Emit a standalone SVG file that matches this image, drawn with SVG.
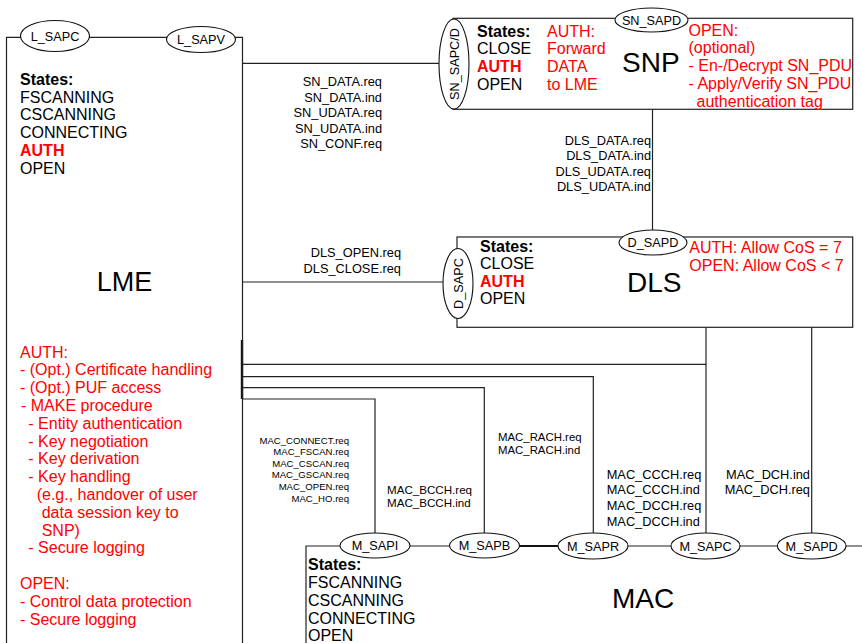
<svg xmlns="http://www.w3.org/2000/svg" width="862" height="643" viewBox="0 0 862 643">
<style>
text{font-family:"Liberation Sans",Arial,sans-serif;fill:#000}
.b{font-size:16px}
.bb{font-size:16px;font-weight:bold}
.r{fill:#ff0000}
.big{font-size:28px}
.sap{font-size:12.7px;text-anchor:middle}
.lbl{font-size:12.8px}
.e{text-anchor:end}
.box{fill:#fff;stroke:#222;stroke-width:1.2}
.ln{fill:none;stroke:#222;stroke-width:1.2}
.el{fill:#fff;stroke:#111;stroke-width:1.1}
</style>
<rect width="862" height="643" fill="#fff"/>

<g id="connectors">
<path class="ln" d="M242 63.3H440"/>
<path class="ln" d="M242 282H444"/>
<path class="ln" d="M652.5 109.3V230"/>
<path class="ln" d="M706 327V533"/>
<path class="ln" d="M811.7 327V533"/>
<path class="ln" d="M242 364.3H706"/>
<path class="ln" d="M242 376.7H593.3V533"/>
<path class="ln" d="M242 387.7H484.3V533"/>
<path class="ln" d="M242 399H375V533"/>
<path d="M242 340V399" stroke="#111" stroke-width="2.4"/>
<path class="ln" d="M306 643V546H862"/>
<path d="M519 546H558" stroke="#111" stroke-width="2"/>
</g>

<g id="LME">
<path class="ln" d="M6.5 643V37.3H242.5V643"/>
<ellipse class="el" cx="55" cy="36" rx="34.5" ry="15.5"/>
<text class="sap" x="55" y="40.5">L_SAPC</text>
<ellipse class="el" cx="201" cy="39.5" rx="34.5" ry="13"/>
<text class="sap" x="201" y="44">L_SAPV</text>
<text class="bb" x="20" y="85">States:</text>
<text class="b" x="20" y="102.7">FSCANNING</text>
<text class="b" x="20" y="120.4">CSCANNING</text>
<text class="b" x="20" y="138.1">CONNECTING</text>
<text class="bb r" x="20" y="155.8">AUTH</text>
<text class="b" x="20" y="173.5">OPEN</text>
<text style="font-size:27px" x="124.5" y="291" text-anchor="middle">LME</text>
<g class="b r">
<text class="b r" x="20" y="357.5">AUTH:</text>
<text class="b r" x="20" y="375.3">- (Opt.) Certificate handling</text>
<text class="b r" x="20" y="393.1">- (Opt.) PUF access</text>
<text class="b r" x="21" y="410.9">- MAKE procedure</text>
<text class="b r" x="28.3" y="428.7">- Entity authentication</text>
<text class="b r" x="28.3" y="446.5">- Key negotiation</text>
<text class="b r" x="28.3" y="464.3">- Key derivation</text>
<text class="b r" x="28.3" y="482.1">- Key handling</text>
<text class="b r" x="36.7" y="499.9">(e.g., handover of user</text>
<text class="b r" x="41.7" y="517.7">data session key to</text>
<text class="b r" x="41.7" y="535.5">SNP)</text>
<text class="b r" x="28.3" y="553.3">- Secure logging</text>
<text class="b r" x="20" y="588.9">OPEN:</text>
<text class="b r" x="20" y="606.7">- Control data protection</text>
<text class="b r" x="20" y="624.5">- Secure logging</text>
</g>
</g>

<g id="SNP">
<rect class="box" x="453" y="18.3" width="399.7" height="91"/>
<ellipse class="el" cx="454" cy="64" rx="15" ry="45"/>
<text class="sap" transform="translate(458.5 64) rotate(-90)">SN_SAPC/D</text>
<ellipse class="el" cx="651.5" cy="20" rx="36.5" ry="12"/>
<text class="sap" x="651.5" y="24.5">SN_SAPD</text>
<text class="bb" x="477" y="36.5">States:</text>
<text class="b" x="477" y="54.3">CLOSE</text>
<text class="bb r" x="477" y="72.1">AUTH</text>
<text class="b" x="477" y="89.9">OPEN</text>
<text class="b r" x="547" y="36.5">AUTH:</text>
<text class="b r" x="547" y="54.3">Forward</text>
<text class="b r" x="547" y="72.1">DATA</text>
<text class="b r" x="547" y="89.9">to LME</text>
<text class="big" x="622" y="72">SNP</text>
<text class="b r" x="688.5" y="35.5">OPEN:</text>
<text class="b r" x="688.5" y="53.3">(optional)</text>
<text class="b r" x="688.5" y="71.1">- En-/Decrypt SN_PDU</text>
<text class="b r" x="688.5" y="88.9">- Apply/Verify SN_PDU</text>
<text class="b r" x="696.5" y="106.7">authentication tag</text>
</g>

<g id="DLS">
<rect class="box" x="457" y="237" width="395.7" height="90.3"/>
<ellipse class="el" cx="458" cy="283.5" rx="15" ry="35"/>
<text class="sap" transform="translate(462.5 283.5) rotate(-90)">D_SAPC</text>
<ellipse class="el" cx="653" cy="242.5" rx="34" ry="12.5"/>
<text class="sap" x="653" y="247">D_SAPD</text>
<text class="bb" x="480" y="251.7">States:</text>
<text class="b" x="480" y="269.2">CLOSE</text>
<text class="bb r" x="480" y="286.7">AUTH</text>
<text class="b" x="480" y="304.2">OPEN</text>
<text class="big" x="627" y="291.7">DLS</text>
<text class="b r" x="689.3" y="252.7">AUTH: Allow CoS = 7</text>
<text class="b r" x="689.3" y="270.7">OPEN: Allow CoS &lt; 7</text>
</g>

<g id="MAC">
<ellipse class="el" cx="375" cy="545.5" rx="35" ry="12.5"/>
<text class="sap" x="375" y="550">M_SAPI</text>
<ellipse class="el" cx="484.5" cy="545.5" rx="35" ry="12.5"/>
<text class="sap" x="484.5" y="550">M_SAPB</text>
<ellipse class="el" cx="593" cy="546" rx="35" ry="13"/>
<text class="sap" x="593" y="550.5">M_SAPR</text>
<ellipse class="el" cx="705.5" cy="546" rx="34.5" ry="13"/>
<text class="sap" x="705.5" y="550.5">M_SAPC</text>
<ellipse class="el" cx="811.7" cy="546" rx="34.3" ry="13"/>
<text class="sap" x="811.7" y="550.5">M_SAPD</text>
<text class="bb" x="308" y="570">States:</text>
<text class="b" x="308" y="588">FSCANNING</text>
<text class="b" x="308" y="605.8">CSCANNING</text>
<text class="b" x="308" y="623.6">CONNECTING</text>
<text class="b" x="308" y="641.4">OPEN</text>
<text class="big" x="612" y="608.3">MAC</text>
</g>

<g id="labels">
<g class="lbl e">
<text class="lbl e" x="382" y="86">SN_DATA.req</text>
<text class="lbl e" x="382" y="101.5">SN_DATA.ind</text>
<text class="lbl e" x="382" y="117">SN_UDATA.req</text>
<text class="lbl e" x="382" y="132.5">SN_UDATA.ind</text>
<text class="lbl e" x="382" y="148">SN_CONF.req</text>
<text class="lbl e" x="651" y="144.6">DLS_DATA.req</text>
<text class="lbl e" x="651" y="160.2">DLS_DATA.ind</text>
<text class="lbl e" x="651" y="175.8">DLS_UDATA.req</text>
<text class="lbl e" x="651" y="191.4">DLS_UDATA.ind</text>
<text class="lbl e" x="401" y="256.6">DLS_OPEN.req</text>
<text class="lbl e" x="401" y="272.6">DLS_CLOSE.req</text>
</g>
<g style="font-size:9.6px">
<text style="font-size:9.6px" text-anchor="end" x="349" y="443.5">MAC_CONNECT.req</text>
<text style="font-size:9.6px" text-anchor="end" x="349" y="455.1">MAC_FSCAN.req</text>
<text style="font-size:9.6px" text-anchor="end" x="349" y="466.7">MAC_CSCAN.req</text>
<text style="font-size:9.6px" text-anchor="end" x="349" y="478.3">MAC_GSCAN.req</text>
<text style="font-size:9.6px" text-anchor="end" x="349" y="489.9">MAC_OPEN.req</text>
<text style="font-size:9.6px" text-anchor="end" x="349" y="501.5">MAC_HO.req</text>
</g>
<text style="font-size:11.6px" x="387" y="494.3">MAC_BCCH.req</text>
<text style="font-size:11.6px" x="387" y="507">MAC_BCCH.ind</text>
<text style="font-size:11.4px" x="498" y="441.4">MAC_RACH.req</text>
<text style="font-size:11.4px" x="498" y="454.1">MAC_RACH.ind</text>
<text class="lbl" x="606.7" y="478.6">MAC_CCCH.req</text>
<text class="lbl" x="606.7" y="494.3">MAC_CCCH.ind</text>
<text class="lbl" x="606.7" y="510">MAC_DCCH.req</text>
<text class="lbl" x="606.7" y="525.7">MAC_DCCH.ind</text>
<text class="lbl e" x="810" y="478.6">MAC_DCH.ind</text>
<text class="lbl e" x="810" y="494.3">MAC_DCH.req</text>
</g>
</svg>
